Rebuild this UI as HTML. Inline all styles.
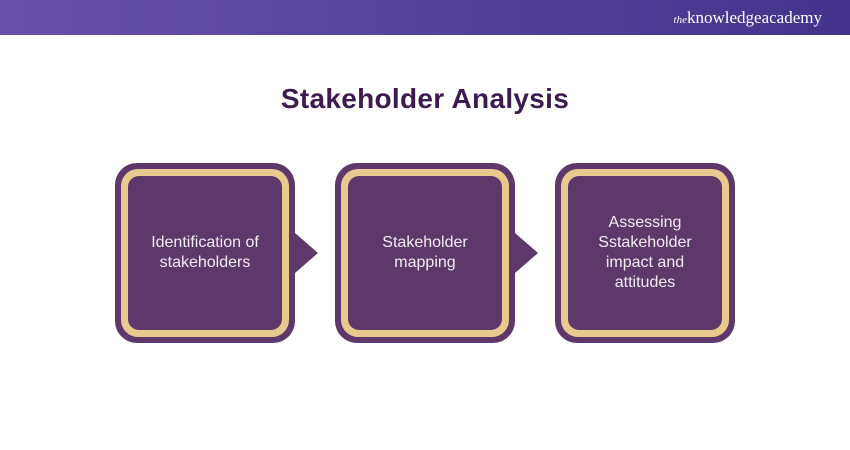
<!DOCTYPE html>
<html><head><style>
body{margin:0;width:850px;height:450px;background:#fff;position:relative;overflow:hidden;font-family:"Liberation Sans",sans-serif}
.hdr{position:absolute;left:0;top:0;width:850px;height:35px;background:linear-gradient(90deg,#6652a8,#44338b)}
.logo{position:absolute;right:28px;top:8px;color:#fff;font-family:"Liberation Serif",serif;font-size:17px}
.logo i{font-size:11px}
h1{position:absolute;top:83px;left:0;width:850px;text-align:center;margin:0;font-size:28px;font-weight:bold;color:#3d1a50;letter-spacing:0.3px}
.box{position:absolute;top:163px;width:180px;height:180px;background:#5e376b;border-radius:22px}
.ring{position:absolute;left:6px;top:6px;right:6px;bottom:6px;background:#e8c98e;border-radius:17px}
.in{position:absolute;left:7px;top:7px;right:7px;bottom:7px;background:#5e376b;border-radius:11px;display:flex;align-items:center;justify-content:center;text-align:center;color:#f3ecf3;font-size:16px;line-height:20px}
.arr{position:absolute;top:233px;width:0;height:0;border-top:20px solid transparent;border-bottom:20px solid transparent;border-left:23px solid #5e376b}
</style></head><body>
<div class="hdr"><div class="logo"><i>the</i>knowledgeacademy</div></div>
<h1>Stakeholder Analysis</h1>
<div class="box" style="left:115px"><div class="ring"><div class="in">Identification of<br>stakeholders</div></div></div>
<div class="arr" style="left:295px"></div>
<div class="box" style="left:335px"><div class="ring"><div class="in">Stakeholder<br>mapping</div></div></div>
<div class="arr" style="left:515px"></div>
<div class="box" style="left:555px"><div class="ring"><div class="in">Assessing<br>Sstakeholder<br>impact and<br>attitudes</div></div></div>
</body></html>
